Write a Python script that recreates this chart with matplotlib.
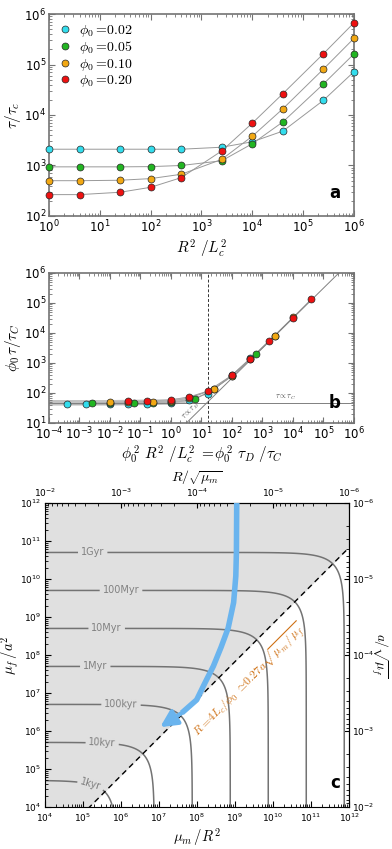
import numpy as np
import matplotlib
matplotlib.use('Agg')
import matplotlib.pyplot as plt
from matplotlib.ticker import LogLocator, NullFormatter

plt.rcParams['mathtext.fontset'] = 'cm'
plt.rcParams['font.family'] = 'DejaVu Sans'

# ---- panel a: tau/tau_c against R^2/L_c^2 for four phi0
r2_lc2 = np.array([1, 4, 25, 100, 400, 2500, 1e4, 4e4, 2.5e5, 1e6])
phi0 = [0.02, 0.05, 0.10, 0.20]
tau_002 = np.array([2100, 2100, 2100, 2100, 2100, 2300, 2950, 4800, 19500, 72000])
tau_005 = np.array([940, 940, 940, 950, 1000, 1240, 2700, 7300, 41000, 162000])
tau_010 = np.array([500, 500, 510, 550, 670, 1320, 3800, 13300, 81000, 330000])
tau_020 = np.array([265, 265, 295, 370, 575, 1940, 6900, 26500, 163000, 670000])
taus = [tau_002, tau_005, tau_010, tau_020]
colors = ['#33dded', '#22b522', '#f2a813', '#ee1111']

# ---- panel b: guide lines
band_x = [1e-4, 1e-2, 1, 3]
band_y = [47, 47, 50, 56]
tauC_x = [1e-4, 1e6]
tauC_y = [46, 46]
tauD_x = [3.2, 3.2e5]
tauD_y = [10, 1e6]
x_cross = 16

# ---- panel c
levels_yr = [1e3, 1e4, 1e5, 1e6, 1e7, 1e8, 1e9]
level_names = ['1kyr', '10kyr', '100kyr', '1Myr', '10Myr', '100Myr', '1Gyr']
yr_per_mum = 1 / 750.   # years per unit mu_m/R^2
yr_per_muf = 1 / 50.    # years per unit mu_f/a^2
bound_x = [1e4, 1e12]
bound_y = [6.7e2, 6.7e10]
blue_x = [1.11e9, 1.09e9, 1.05e9, 9.2e8, 6.6e8, 4.3e8, 2.7e8, 1.6e8, 9.8e7, 4.0e7]
blue_y = [1e12, 5.2e10, 1.2e10, 2.4e9, 5.1e8, 1.6e8, 5.1e7, 1.8e7, 6.6e6, 3.0e6]
arrow_tip = (1.07e7, 1.26e6)
label_pos = [(1.6e5, 4e4), (3.2e5, 4.8e5), (1.0e6, 5e6), (2.1e5, 5e7),
             (4.2e5, 5e8), (1.0e6, 5e9), (1.8e5, 5e10)]

fig = plt.figure(figsize=(3.92, 8.49), dpi=100)
axa = fig.add_axes([0.125, 0.7456, 0.778, 0.2379])
axb = fig.add_axes([0.125, 0.5018, 0.778, 0.1767])
axc = fig.add_axes([0.1148, 0.0495, 0.7755, 0.358])

spine_col = '0.45'


def style_ab(ax):
    ax.set_xscale('log')
    ax.set_yscale('log')
    for s in ax.spines.values():
        s.set_color(spine_col)
        s.set_linewidth(1.2)
    ax.tick_params(which='both', direction='in', top=True, right=True,
                   color=spine_col, labelsize=8.5, pad=2)
    ax.tick_params(which='major', length=4)
    ax.tick_params(which='minor', length=2)
    ax.xaxis.set_major_locator(LogLocator(base=10, numticks=20))
    ax.xaxis.set_minor_locator(LogLocator(base=10, subs=np.arange(2, 10), numticks=20))
    ax.xaxis.set_minor_formatter(NullFormatter())
    ax.yaxis.set_major_locator(LogLocator(base=10, numticks=20))
    ax.yaxis.set_minor_locator(LogLocator(base=10, subs=np.arange(2, 10), numticks=20))
    ax.yaxis.set_minor_formatter(NullFormatter())


# panel a
style_ab(axa)
for p, t, c in zip(phi0, taus, colors):
    axa.plot(r2_lc2, t, color='0.6', lw=0.7, zorder=1)
for p, t, c in zip(phi0, taus, colors):
    axa.plot(r2_lc2, t, 'o', color=c, mec='0.15', mew=0.5, ms=5,
             label=r'$\phi_0=\!%.2f$' % p, zorder=3, clip_on=False)
axa.set_xlim(1, 1e6)
axa.set_ylim(1e2, 1e6)
axa.set_xlabel(r'$R^2\ /L_c^2$', fontsize=11, labelpad=2)
axa.set_ylabel(r'$\tau/\tau_c$', fontsize=11, labelpad=1)
axa.legend(loc='upper left', frameon=False, fontsize=10, handlelength=1.0,
           handletextpad=0.5, labelspacing=0.02, borderaxespad=0.25)
axa.text(0.955, 0.07, 'a', transform=axa.transAxes, fontsize=12,
         fontweight='bold', ha='right', va='bottom')

# panel b
style_ab(axb)
for p, t in zip(phi0, taus):
    axb.plot(p ** 2 * r2_lc2, p * t, color='0.6', lw=0.7, zorder=1)
axb.plot(band_x, band_y, color='0.7', lw=4, alpha=0.8, solid_capstyle='butt', zorder=1)
axb.plot(tauC_x, tauC_y, color='0.5', lw=0.7, zorder=1)
axb.plot(tauD_x, tauD_y, color='0.5', lw=0.7, zorder=1)
axb.axvline(x_cross, color='0.2', lw=0.7, ls=(0, (3, 2)), zorder=1)
for p, t, c in zip(phi0, taus, colors):
    axb.plot(p ** 2 * r2_lc2, p * t, 'o', color=c, mec='0.15', mew=0.5, ms=5, zorder=3)
axb.set_xlim(1e-4, 1e6)
axb.set_ylim(1e1, 1e6)
axb.set_xlabel(r'$\phi_0^{\,2}\ R^2\ /L_c^2\ =\!\phi_0^{\,2}\ \tau_D\ /\tau_C$', fontsize=11, labelpad=1)
axb.set_ylabel(r'$\phi_0\,\tau/\tau_C$', fontsize=11, labelpad=1)
axb.text(5.7e3, 50, r'$\tau\propto\tau_C$', fontsize=5.5, color='0.3',
         ha='center', va='bottom')
axb.text(4.5, 24, r'$\tau\propto\tau_D$', fontsize=5.5, color='0.3',
         ha='center', va='center', rotation=45)
axb.text(0.955, 0.07, 'b', transform=axb.transAxes, fontsize=12,
         fontweight='bold', ha='right', va='bottom')

# panel c
axc.set_xscale('log')
axc.set_yscale('log')
axc.set_xlim(1e4, 1e12)
axc.set_ylim(1e4, 1e12)
axc.fill_between(bound_x, bound_y, 1e12, color='#e0e0e0', lw=0, zorder=0)
axc.plot(bound_x, bound_y, color='k', lw=1, ls=(0, (4, 3)), zorder=2)

xg = np.logspace(4, 12, 500)
yg = np.logspace(4, 12, 500)
X, Y = np.meshgrid(xg, yg)
T = X * yr_per_mum + Y * yr_per_muf
cs = axc.contour(X, Y, T, levels=levels_yr, colors='0.45', linewidths=1.1, zorder=1)
fmt = {lv: nm for lv, nm in zip(levels_yr, level_names)}
axc.clabel(cs, levels_yr, inline=True, fmt=fmt, fontsize=7, colors='0.5',
           manual=label_pos, inline_spacing=3)

blue = '#6ab4ee'
axc.plot(blue_x, blue_y, color=blue, lw=4, solid_capstyle='butt', zorder=3)
axc.annotate('', xy=arrow_tip, xytext=(blue_x[-1], blue_y[-1]),
             arrowprops=dict(arrowstyle='-|>,head_width=0.5,head_length=1.0',
                             color=blue, lw=3, shrinkA=0, shrinkB=0,
                             mutation_scale=10), zorder=3)
axc.text(2.4e9, 2.2e7, r'$R=\!4L_c/\phi_0\ \simeq\!0.27a\sqrt{\mu_m\,/\,\mu_f}$',
         color='#d0741a', fontsize=8.5, rotation=45, rotation_mode='anchor',
         ha='center', va='center', zorder=4)

axc.tick_params(which='both', direction='in', labelsize=6.5, top=False, right=False, pad=3)
axc.tick_params(which='major', length=4)
axc.tick_params(which='minor', length=2)
axc.xaxis.set_major_locator(LogLocator(base=10, numticks=20))
axc.xaxis.set_minor_locator(LogLocator(base=10, subs=np.arange(2, 10), numticks=20))
axc.xaxis.set_minor_formatter(NullFormatter())
axc.yaxis.set_major_locator(LogLocator(base=10, numticks=20))
axc.yaxis.set_minor_locator(LogLocator(base=10, subs=np.arange(2, 10), numticks=20))
axc.yaxis.set_minor_formatter(NullFormatter())
axc.set_xlabel(r'$\mu_m\,/R^2$', fontsize=10.5, labelpad=2)
axc.set_ylabel(r'$\mu_f\,/a^2$', fontsize=10.5, labelpad=-1)
axc.text(0.97, 0.05, 'c', transform=axc.transAxes, fontsize=12,
         fontweight='bold', ha='right', va='bottom')


def inv_sqrt(v):
    v = np.asarray(v, dtype=float)
    return 1.0 / np.sqrt(np.clip(v, 1e-300, None))


def inv_sq(v):
    v = np.asarray(v, dtype=float)
    return 1.0 / np.clip(v, 1e-300, None) ** 2


secx = axc.secondary_xaxis('top', functions=(inv_sqrt, inv_sq))
secx.set_xticks([1e-2, 1e-3, 1e-4, 1e-5, 1e-6])
secx.tick_params(which='both', direction='in', labelsize=6.5, pad=3)
secx.set_xlabel(r'$R/\sqrt{\mu_m}$', fontsize=10, labelpad=3)
secy = axc.secondary_yaxis('right', functions=(inv_sqrt, inv_sq))
secy.set_yticks([1e-2, 1e-3, 1e-4, 1e-5, 1e-6])
secy.tick_params(which='both', direction='in', labelsize=6.5, pad=2)
secy.set_ylabel(r'$a/\sqrt{\mu_f}$', fontsize=9.5, rotation=270, labelpad=11)

fig.savefig('out.png', dpi=100)
